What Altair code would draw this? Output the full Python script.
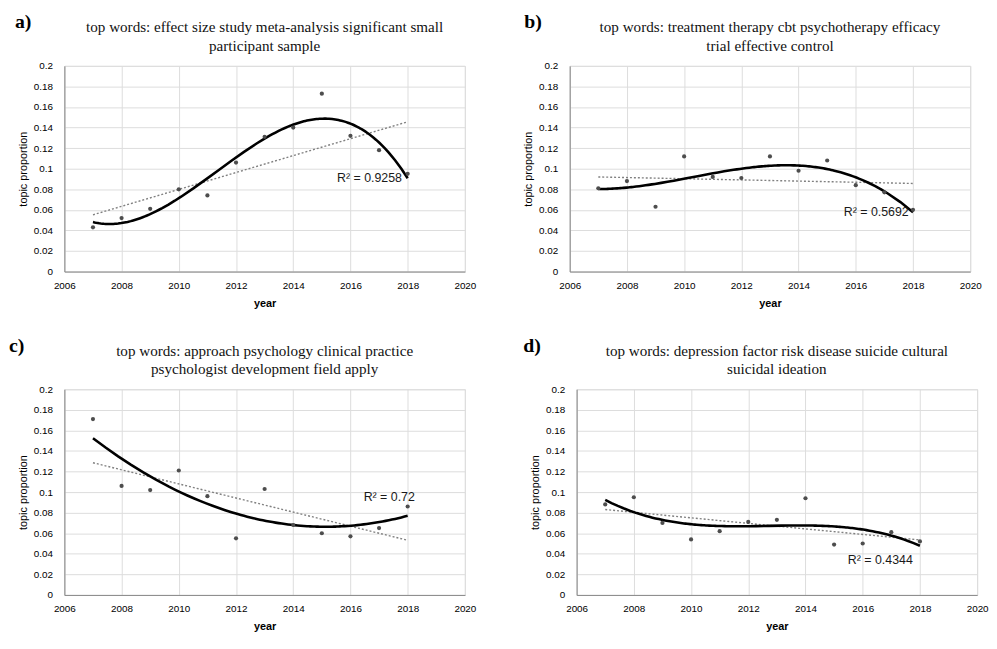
import altair as alt
import pandas as pd

years = [2007, 2008, 2009, 2010, 2011, 2012, 2013, 2014, 2015, 2016, 2017, 2018]
vals_a = [0.043, 0.052, 0.061, 0.080, 0.074, 0.106, 0.131, 0.140, 0.173, 0.132, 0.118, 0.095]
vals_b = [0.081, 0.088, 0.063, 0.112, 0.092, 0.091, 0.112, 0.098, 0.108, 0.084, 0.077, 0.060]
vals_c = [0.171, 0.106, 0.102, 0.121, 0.096, 0.055, 0.103, 0.068, 0.060, 0.057, 0.065, 0.086]
vals_d = [0.088, 0.095, 0.070, 0.054, 0.062, 0.071, 0.073, 0.094, 0.049, 0.050, 0.061, 0.052]

panel_letters = ["a)", "b)", "c)", "d)"]
titles = [
    ["top words: effect size study meta-analysis significant small", "participant sample"],
    ["top words: treatment therapy cbt psychotherapy efficacy", "trial effective control"],
    ["top words: approach psychology clinical practice", "psychologist development field apply"],
    ["top words: depression factor risk disease suicide cultural", "suicidal ideation"],
]
r2_labels = ["R² = 0.9258", "R² = 0.5692", "R² = 0.72", "R² = 0.4344"]
r2_x = [2017.8, 2017.85, 2018.25, 2017.75]
r2_y = [0.0905, 0.0574, 0.0952, 0.034]
poly_orders = [3, 3, 2, 3]

x_ticks = [2006, 2008, 2010, 2012, 2014, 2016, 2018, 2020]
y_ticks = [0, 0.02, 0.04, 0.06, 0.08, 0.1, 0.12, 0.14, 0.16, 0.18, 0.2]

W, H = 405, 208
label_dx = [-50, -46, -56, -54]

def panel(i, vals):
    df = pd.DataFrame({"year": years, "value": vals})
    x = alt.X("year:Q", scale=alt.Scale(domain=[2006, 2020], nice=False),
              axis=alt.Axis(values=x_ticks, format="d", title="year", ticks=False,
                            labelFlush=False, labelPadding=9, titlePadding=7,
                            titleFontWeight="bold"))
    y = alt.Y("value:Q", scale=alt.Scale(domain=[0, 0.2], nice=False),
              axis=alt.Axis(values=y_ticks, format="~g", title="topic proportion", ticks=False,
                            labelFlush=False, labelPadding=12, titlePadding=5,
                            titleFontWeight="normal"))
    base = alt.Chart(df)
    pts = base.mark_circle(size=18, color="#4d4d4d", opacity=1).encode(x=x, y=y)
    lin = base.transform_regression("year", "value", method="linear").mark_line(
        color="#808080", strokeWidth=1.4, strokeDash=[2, 2]).encode(x=x, y=y)
    poly = base.transform_regression("year", "value", method="poly", order=poly_orders[i]).mark_line(
        color="black", strokeWidth=2.6).encode(x=x, y=y)
    r2df = pd.DataFrame({"year": [r2_x[i]], "value": [r2_y[i]], "t": [r2_labels[i]]})
    r2 = alt.Chart(r2df).mark_text(align="right", baseline="middle", font="Liberation Sans",
                                   fontSize=12.5, color="#1a1a1a").encode(x=x, y=y, text="t:N")
    lab = alt.Chart(pd.DataFrame({"t": [panel_letters[i]]})).mark_text(
        align="left", baseline="middle", font="Liberation Serif", fontSize=20,
        fontWeight="bold", color="black").encode(
        x=alt.value(label_dx[i]), y=alt.value(-44), text="t:N")
    t1 = alt.Chart(pd.DataFrame({"t": [titles[i][0]]})).mark_text(
        align="center", baseline="middle", font="Liberation Serif", fontSize=15.3,
        color="#111111").encode(x=alt.value(W / 2), y=alt.value(-39), text="t:N")
    t2 = alt.Chart(pd.DataFrame({"t": [titles[i][1]]})).mark_text(
        align="center", baseline="middle", font="Liberation Serif", fontSize=15.3,
        color="#111111").encode(x=alt.value(W / 2), y=alt.value(-20), text="t:N")
    return alt.layer(lin, poly, pts, r2, lab, t1, t2).properties(width=W, height=H)

pa = panel(0, vals_a)
pb = panel(1, vals_b)
pc = panel(2, vals_c)
pd_ = panel(3, vals_d)

chart = alt.vconcat(
    alt.hconcat(pa, pb, spacing=46),
    alt.hconcat(pc, pd_, spacing=46),
    spacing=26,
).configure_view(stroke="#d9d9d9").configure_axis(
    grid=True, gridColor="#d9d9d9", gridWidth=1, domain=False, ticks=False,
    labelFont="Liberation Sans", labelFontSize=10.5, labelFontWeight="bold", labelColor="#1a1a1a",
    titleFont="Liberation Sans", titleFontSize=11.5,
    titleColor="#1a1a1a",
).configure(background="white", padding=0)

chart.save("out.html", embed_options={"renderer": "svg", "actions": False})
